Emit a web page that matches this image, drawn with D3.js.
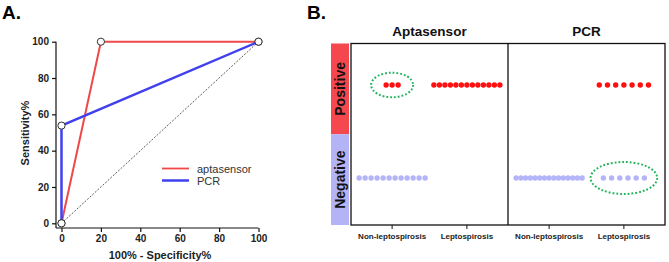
<!DOCTYPE html>
<html>
<head>
<meta charset="utf-8">
<script src="https://cdn.jsdelivr.net/npm/d3@7"></script>
<style>
  body { margin: 0; background: #fff; }
  svg { font-family: "Liberation Sans", Arial, sans-serif; display: block; }
</style>
</head>
<body>
<svg id="chart" width="669" height="262"></svg>
<script>
// ROC data (x = 100% - specificity, y = sensitivity)
const rocSeries = ["aptasensor", "PCR"];
const aptaRoc = [[0, 0], [20, 100], [100, 100]];
const pcrRoc = [[0, 0], [0, 53.8], [100, 100]];
const rocTicks = [0, 20, 40, 60, 80, 100];

// dot plot data: counts per method / group / result
const methods = ["Aptasensor", "PCR"];
const groups = ["Non-leptospirosis", "Leptospirosis"];
const results = ["Positive", "Negative"];
const aptaCounts = { Positive: [3, 13], Negative: [12, 0] };
const pcrCounts = { Positive: [0, 7], Negative: [15, 6] };

const svg = d3.select("#chart");
const red = "#f04848", blue = "#4040ee";

// ---------- panel A ----------
svg.append("text").attr("x", 2).attr("y", 19)
  .attr("font-size", "19px").attr("font-weight", "bold").text("A.");

const x = d3.scaleLinear().domain([0, 100]).range([61.5, 258.5]);
const y = d3.scaleLinear().domain([0, 100]).range([223.3, 41.7]);
const gA = svg.append("g");

gA.append("g")
  .attr("transform", "translate(0,228)")
  .call(d3.axisBottom(x).tickValues(rocTicks).tickSize(4).tickSizeOuter(0))
  .call(g => g.select(".domain").attr("d", `M56,0H${x(100)}`));
gA.append("g")
  .attr("transform", "translate(56,0)")
  .call(d3.axisLeft(y).tickValues(rocTicks).tickSize(4).tickSizeOuter(0))
  .call(g => g.select(".domain").attr("d", `M0,${y(100)}V228`));
gA.selectAll(".tick text")
  .attr("font-size", "10px").attr("font-weight", "bold").attr("fill", "#222");
gA.selectAll(".domain, .tick line").attr("stroke", "#111").attr("stroke-width", 1.2);

gA.append("text").attr("x", 160).attr("y", 259).attr("text-anchor", "middle")
  .attr("font-size", "11px").attr("font-weight", "bold").attr("fill", "#222")
  .text("100% - Specificity%");
gA.append("text").attr("transform", "translate(29,133) rotate(-90)")
  .attr("text-anchor", "middle")
  .attr("font-size", "11px").attr("font-weight", "bold").attr("fill", "#222")
  .text("Sensitivity%");

// chance diagonal
gA.append("line")
  .attr("x1", x(0)).attr("y1", y(0)).attr("x2", x(100)).attr("y2", y(100))
  .attr("stroke", "#333").attr("stroke-width", 0.8).attr("stroke-dasharray", "2,1.5");

const line = d3.line().x(d => x(d[0])).y(d => y(d[1]));
gA.append("path").attr("d", line(aptaRoc))
  .attr("fill", "none").attr("stroke", red).attr("stroke-width", 2);
gA.append("path").attr("d", line(pcrRoc))
  .attr("fill", "none").attr("stroke", blue).attr("stroke-width", 2.5);

gA.selectAll("circle.pt")
  .data(aptaRoc.concat(pcrRoc))
  .enter().append("circle")
  .attr("cx", d => x(d[0])).attr("cy", d => y(d[1])).attr("r", 3.6)
  .attr("fill", "#fff").attr("stroke", "#333").attr("stroke-width", 1);

const legend = gA.append("g").attr("transform", "translate(162,168.5)");
[red, blue].forEach((c, i) => {
  legend.append("line").attr("x1", 0).attr("x2", 27)
    .attr("y1", i * 12).attr("y2", i * 12)
    .attr("stroke", c).attr("stroke-width", i ? 2.5 : 1.8);
  legend.append("text").attr("x", 35).attr("y", i * 12 + 4)
    .attr("font-size", "11px").attr("fill", "#333").text(rocSeries[i]);
});

// ---------- panel B ----------
svg.append("text").attr("x", 307).attr("y", 19)
  .attr("font-size", "19px").attr("font-weight", "bold").text("B.");

const frameL = 351, frameR = 665, frameT = 43.5, frameB = 225;
const mx = d3.scaleBand().domain(methods).range([frameL, frameR]);
const gx = d3.scalePoint().domain(groups).range([0, mx.bandwidth()]).padding(0.55);
const ry = d3.scalePoint().domain(results).range([85, 178]);
const bandY = d3.scaleBand().domain(results).range([frameT, frameB]);
const gB = svg.append("g");

// side bars
const barColor = { Positive: "#f4484e", Negative: "#b3b3f6" };
results.forEach(r => {
  gB.append("rect").attr("x", 331).attr("y", bandY(r))
    .attr("width", 18).attr("height", bandY.bandwidth())
    .attr("fill", barColor[r]);
  gB.append("text")
    .attr("transform", `translate(345,${bandY(r) + bandY.bandwidth() / 2}) rotate(-90)`)
    .attr("text-anchor", "middle")
    .attr("font-size", "14px").attr("font-weight", "bold").attr("fill", "#111")
    .text(r);
});

// frame and divider
gB.append("rect").attr("x", frameL).attr("y", frameT)
  .attr("width", frameR - frameL).attr("height", frameB - frameT)
  .attr("fill", "none").attr("stroke", "#111").attr("stroke-width", 1.3);
gB.append("line").attr("x1", mx("PCR")).attr("x2", mx("PCR"))
  .attr("y1", frameT).attr("y2", frameB).attr("stroke", "#111").attr("stroke-width", 1.3);

const counts = { Aptasensor: aptaCounts, PCR: pcrCounts };
methods.forEach(m => {
  const ox = mx(m);
  gB.append("text").attr("x", ox + mx.bandwidth() / 2).attr("y", 36)
    .attr("text-anchor", "middle")
    .attr("font-size", "13.5px").attr("font-weight", "bold").attr("fill", "#111")
    .text(m);

  groups.forEach((g, gi) => {
    const cx = ox + gx(g);
    gB.append("line").attr("x1", cx).attr("x2", cx)
      .attr("y1", frameB).attr("y2", frameB + 4)
      .attr("stroke", "#111").attr("stroke-width", 1);
    gB.append("text").attr("x", cx).attr("y", 238.5)
      .attr("text-anchor", "middle")
      .attr("font-size", "8px").attr("font-weight", "bold").attr("fill", "#222")
      .text(g);

    results.forEach(r => {
      const n = counts[m][r][gi];
      if (!n) return;
      const step = n > 1 ? Math.min(8.2, 66 / (n - 1)) : 0;
      const sp = n <= 3 ? 6 : step;
      gB.selectAll(null)
        .data(d3.range(n))
        .enter().append("circle")
        .attr("cx", i => cx + (i - (n - 1) / 2) * sp)
        .attr("cy", ry(r))
        .attr("r", 2.7)
        .attr("fill", r === "Positive" ? "#ff1010" : "#b4b4f8");
    });
  });
});

// highlight ellipses for discordant results
const highlights = [["Aptasensor", "Non-leptospirosis", "Positive", 21, 12.3],
                    ["PCR", "Leptospirosis", "Negative", 33.3, 16]];
highlights.forEach(([m, g, r, rx, rY]) => {
  gB.append("ellipse")
    .attr("cx", mx(m) + gx(g)).attr("cy", ry(r))
    .attr("rx", rx).attr("ry", rY)
    .attr("fill", "none").attr("stroke", "#1fb45a").attr("stroke-width", 2)
    .attr("stroke-dasharray", "1.8,2");
});
</script>
</body>
</html>
